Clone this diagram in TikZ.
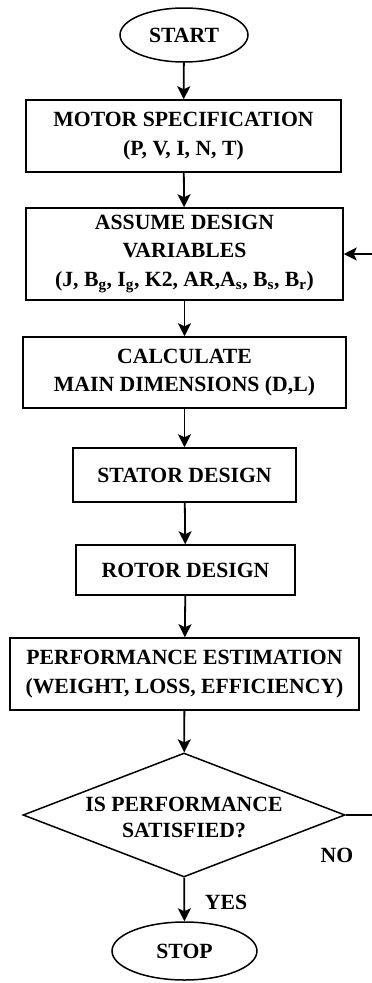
\documentclass[tikz,border=0pt]{standalone}
\usepackage{fontspec}
\setmainfont{Liberation Serif}
\usetikzlibrary{arrows.meta,shapes.geometric}
\begin{document}
\begin{tikzpicture}[x=1pt,y=-1pt,
  every node/.style={font=\fontsize{21.7}{28.5}\selectfont\bfseries},
  box/.style={draw, line width=1.5pt, rectangle, inner sep=0pt, align=center},
  term/.style={draw, line width=1.5pt, ellipse, inner sep=0pt},
  decision/.style={draw, line width=1.5pt, diamond, inner sep=0pt, aspect=2.6},
  flow/.style={line width=1.8pt, -{Stealth[length=13pt,width=13pt,inset=3pt]}},
  plain/.style={line width=1.8pt},
  lbl/.style={inner sep=0pt, align=center}]
\useasboundingbox (0,0) rectangle (372,983);

% process blocks, top to bottom
\node[term, minimum width=128pt, minimum height=54pt] (start) at (184,35) {START};
\node[box, minimum width=315pt, minimum height=72pt] (spec) at (183.5,136)
  {MOTOR SPECIFICATION\\(P, V, I, N, T)};
\node[box, minimum width=317pt, minimum height=92pt] (assume) at (184.5,254)
  {ASSUME DESIGN\\VARIABLES\\(J, B\textsubscript{g}, I\textsubscript{g}, K2, AR,A\textsubscript{s}, B\textsubscript{s}, B\textsubscript{r})};
\node[box, minimum width=323pt, minimum height=71pt] (calc) at (184.5,372.5)
  {CALCULATE\\MAIN DIMENSIONS (D,L)};
\node[box, minimum width=223pt, minimum height=54pt] (stator) at (184.5,475) {STATOR DESIGN};
\node[box, minimum width=219pt, minimum height=50pt] (rotor) at (185.5,570) {ROTOR DESIGN};
\node[box, minimum width=349pt, minimum height=72pt] (perf) at (184.5,674)
  {PERFORMANCE ESTIMATION\\(WEIGHT, LOSS, EFFICIENCY)};
\node[decision, minimum width=322pt, minimum height=124pt] (dec) at (184,815) {};
\node[lbl, font=\fontsize{21.7}{26}\selectfont\bfseries] (dectext) at (184,817) {IS PERFORMANCE\\SATISFIED?};
\node[term, minimum width=145pt, minimum height=58pt] (stop) at (184.5,951) {STOP};

% branch labels
\node[lbl] (no) at (337,855) {NO};
\node[lbl] (yes) at (226,902) {YES};

% main flow
\draw[flow] (start) -- (spec);
\draw[flow] (spec) -- (assume);
\draw[flow] (assume) -- (calc);
\draw[flow] (calc) -- (stator);
\draw[flow] (stator) -- (rotor);
\draw[flow] (rotor) -- (perf);
\draw[flow] (perf) -- (dec);
\draw[flow] (dec) -- (stop);

% feedback loop when performance is not satisfied
\coordinate (loop) at (374.5,0);
\draw[plain] (dec.east) -- (dec.east -| loop);
\draw[flow] (dec.east -| loop) |- (assume.east);
\end{tikzpicture}
\end{document}
